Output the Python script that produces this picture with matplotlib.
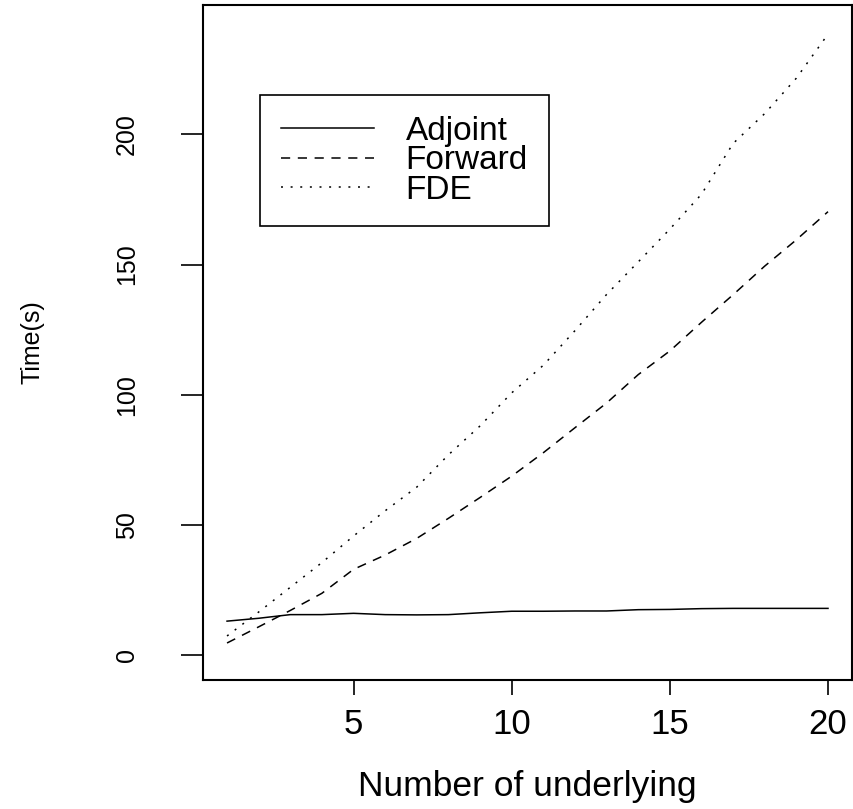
import matplotlib
matplotlib.use("Agg")
import matplotlib.pyplot as plt

# timings vs number of underlyings
n_underlying = list(range(1, 21))
adjoint = [13.0, 14.1, 15.5, 15.5, 16.0, 15.5, 15.4, 15.5, 16.2, 16.8,
           16.8, 16.9, 16.9, 17.4, 17.5, 17.8, 17.9, 17.9, 17.9, 17.9]
forward = [4.6, 10.8, 17.1, 23.7, 32.9, 38.4, 44.8, 52.5, 60.5, 68.7,
           77.7, 87.3, 96.8, 107.7, 116.8, 127.8, 138.4, 149.4, 159.5, 170.3]
fde = [7.3, 16.5, 26.0, 35.5, 45.7, 55.4, 64.5, 76.9, 88.0, 100.7,
       111.3, 124.6, 138.5, 151.0, 163.6, 177.0, 196.5, 208.0, 221.6, 238.5]

plt.rcParams["font.family"] = ["Liberation Sans", "DejaVu Sans"]

fig = plt.figure(figsize=(8.54, 8.09), dpi=100)
ax = fig.add_axes([0.2377, 0.1595, 0.76, 0.834])

ax.plot(n_underlying, adjoint, color="black", lw=1.1, ls="-", label="Adjoint")
ax.plot(n_underlying, forward, color="black", lw=1.1, ls=(0, (6, 5)), label="Forward")
ax.plot(n_underlying, fde, color="black", lw=1.1, ls=(0, (1.3, 5)), label="FDE")

ax.set_xlim(0.24, 20.76)
ax.set_ylim(-9.6, 249.6)
ax.set_xticks([5, 10, 15, 20])
ax.set_yticks([0, 50, 100, 150, 200])
ax.tick_params(axis="x", length=11, width=1.2, pad=9, labelsize=25)
ax.tick_params(axis="y", length=16, width=1.2, pad=30, labelsize=18)
for lab in ax.get_yticklabels():
    lab.set_rotation(90)
    lab.set_va("center")
for sp in ax.spines.values():
    sp.set_linewidth(1.5)

ax.set_xlabel("Number of underlying", fontsize=25.5, va="center")
ax.xaxis.set_label_coords(0.5, -0.1585)
ax.set_ylabel("Time(s)", fontsize=18, va="center")
ax.yaxis.set_label_coords(-0.262, 0.5)

leg = ax.legend(loc="upper left", bbox_to_anchor=(0.0878, 0.8667),
                borderaxespad=0, fontsize=24, handlelength=2.8,
                handletextpad=0.95, labelspacing=-0.05, borderpad=0.62,
                fancybox=False, framealpha=1, edgecolor="black")
leg.get_frame().set_linewidth(1.2)

fig.savefig("out.png", dpi=100)
plt.close(fig)
